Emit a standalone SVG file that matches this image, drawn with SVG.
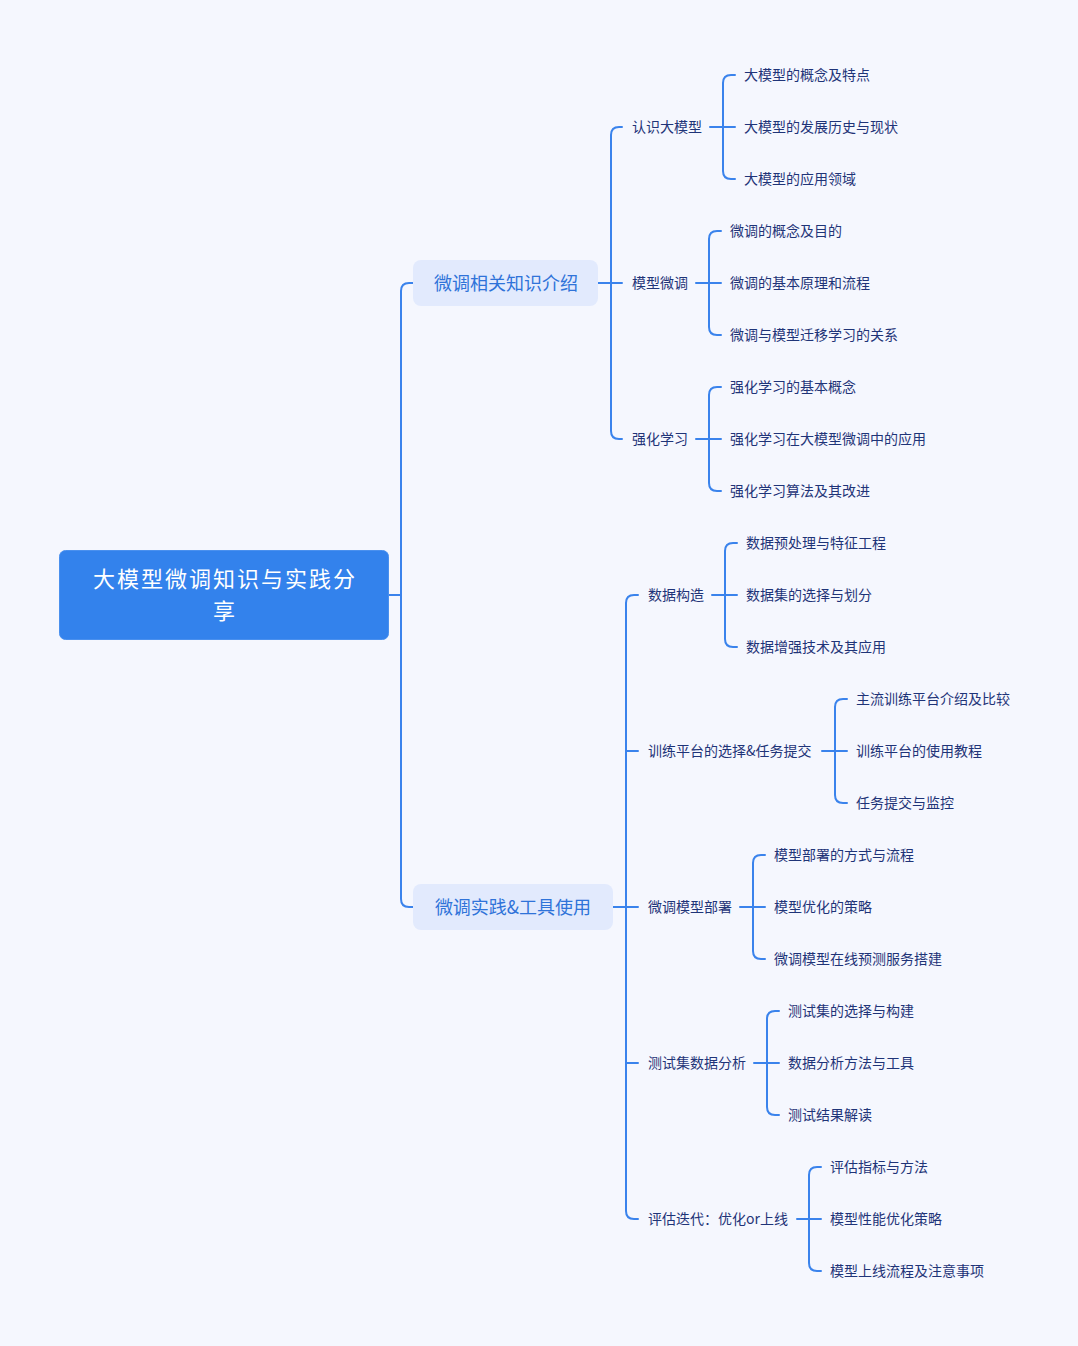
<svg xmlns="http://www.w3.org/2000/svg" width="1078" height="1346" viewBox="0 0 1078 1346">
<style>
.bg{fill:#f5f7fe}
.ln{fill:none;stroke:#3a83ec;stroke-width:2;stroke-linecap:round;stroke-linejoin:round}
.root{fill:#3382ec;stroke:#4a90ee;stroke-width:1}
.l1{fill:#e2eafd}
text{font-family:"Noto Sans CJK SC","Noto Sans",sans-serif}
.rt{font-size:22px;letter-spacing:2px;fill:#ffffff;text-anchor:middle}
.t1{font-size:18px;fill:#2f73d9;text-anchor:middle}
.t2{font-size:14px;fill:#1f3478}
</style>
<rect class="bg" x="0" y="0" width="1078" height="1346"/>
<g id="connectors">
<path class="ln" d="M388 595H401M413 283H409Q401 283 401 291V899Q401 907 409 907H413"/>
<path class="ln" d="M598 283H622M622 127H619Q611 127 611 135V431Q611 439 619 439H622"/>
<path class="ln" d="M710 127H735M735 75H731Q723 75 723 83V171Q723 179 731 179H735"/>
<path class="ln" d="M696 283H721M721 231H717Q709 231 709 239V327Q709 335 717 335H721"/>
<path class="ln" d="M696 439H721M721 387H717Q709 387 709 395V483Q709 491 717 491H721"/>
<path class="ln" d="M613 907H638M638 595H634Q626 595 626 603V1211Q626 1219 634 1219H638M626 751H638M626 1063H638"/>
<path class="ln" d="M712 595H737M737 543H733Q725 543 725 551V639Q725 647 733 647H737"/>
<path class="ln" d="M822 751H847M847 699H843Q835 699 835 707V795Q835 803 843 803H847"/>
<path class="ln" d="M740 907H765M765 855H761Q753 855 753 863V951Q753 959 761 959H765"/>
<path class="ln" d="M754 1063H779M779 1011H775Q767 1011 767 1019V1107Q767 1115 775 1115H779"/>
<path class="ln" d="M797 1219H821M821 1167H817Q809 1167 809 1175V1263Q809 1271 817 1271H821"/>
</g>
<g id="root">
<rect class="root" x="59.5" y="550.5" width="329" height="89" rx="6"/>
<text class="rt" x="225" y="586.5">大模型微调知识与实践分<tspan x="225" y="618.5">享</tspan></text>
</g>
<g id="n1">
<rect class="l1" x="413" y="260" width="185" height="46" rx="8"/>
<text class="t1" x="506" y="289.5">微调相关知识介绍</text>
</g>
<g id="n2">
<rect class="l1" x="413" y="884" width="200" height="46" rx="8"/>
<text class="t1" x="513" y="913.5">微调实践&amp;工具使用</text>
</g>
<g id="n1-1"><text class="t2" x="632" y="132">认识大模型</text></g>
<g id="n1-1-1"><text class="t2" x="744" y="80">大模型的概念及特点</text></g>
<g id="n1-1-2"><text class="t2" x="744" y="132">大模型的发展历史与现状</text></g>
<g id="n1-1-3"><text class="t2" x="744" y="184">大模型的应用领域</text></g>
<g id="n1-2"><text class="t2" x="632" y="288">模型微调</text></g>
<g id="n1-2-1"><text class="t2" x="730" y="236">微调的概念及目的</text></g>
<g id="n1-2-2"><text class="t2" x="730" y="288">微调的基本原理和流程</text></g>
<g id="n1-2-3"><text class="t2" x="730" y="340">微调与模型迁移学习的关系</text></g>
<g id="n1-3"><text class="t2" x="632" y="444">强化学习</text></g>
<g id="n1-3-1"><text class="t2" x="730" y="392">强化学习的基本概念</text></g>
<g id="n1-3-2"><text class="t2" x="730" y="444">强化学习在大模型微调中的应用</text></g>
<g id="n1-3-3"><text class="t2" x="730" y="496">强化学习算法及其改进</text></g>
<g id="n2-1"><text class="t2" x="648" y="600">数据构造</text></g>
<g id="n2-1-1"><text class="t2" x="746" y="548">数据预处理与特征工程</text></g>
<g id="n2-1-2"><text class="t2" x="746" y="600">数据集的选择与划分</text></g>
<g id="n2-1-3"><text class="t2" x="746" y="652">数据增强技术及其应用</text></g>
<g id="n2-2"><text class="t2" x="648" y="756">训练平台的选择&amp;任务提交</text></g>
<g id="n2-2-1"><text class="t2" x="856" y="704">主流训练平台介绍及比较</text></g>
<g id="n2-2-2"><text class="t2" x="856" y="756">训练平台的使用教程</text></g>
<g id="n2-2-3"><text class="t2" x="856" y="808">任务提交与监控</text></g>
<g id="n2-3"><text class="t2" x="648" y="912">微调模型部署</text></g>
<g id="n2-3-1"><text class="t2" x="774" y="860">模型部署的方式与流程</text></g>
<g id="n2-3-2"><text class="t2" x="774" y="912">模型优化的策略</text></g>
<g id="n2-3-3"><text class="t2" x="774" y="964">微调模型在线预测服务搭建</text></g>
<g id="n2-4"><text class="t2" x="648" y="1068">测试集数据分析</text></g>
<g id="n2-4-1"><text class="t2" x="788" y="1016">测试集的选择与构建</text></g>
<g id="n2-4-2"><text class="t2" x="788" y="1068">数据分析方法与工具</text></g>
<g id="n2-4-3"><text class="t2" x="788" y="1120">测试结果解读</text></g>
<g id="n2-5"><text class="t2" x="648" y="1224">评估迭代：优化or上线</text></g>
<g id="n2-5-1"><text class="t2" x="830" y="1172">评估指标与方法</text></g>
<g id="n2-5-2"><text class="t2" x="830" y="1224">模型性能优化策略</text></g>
<g id="n2-5-3"><text class="t2" x="830" y="1276">模型上线流程及注意事项</text></g>
</svg>
